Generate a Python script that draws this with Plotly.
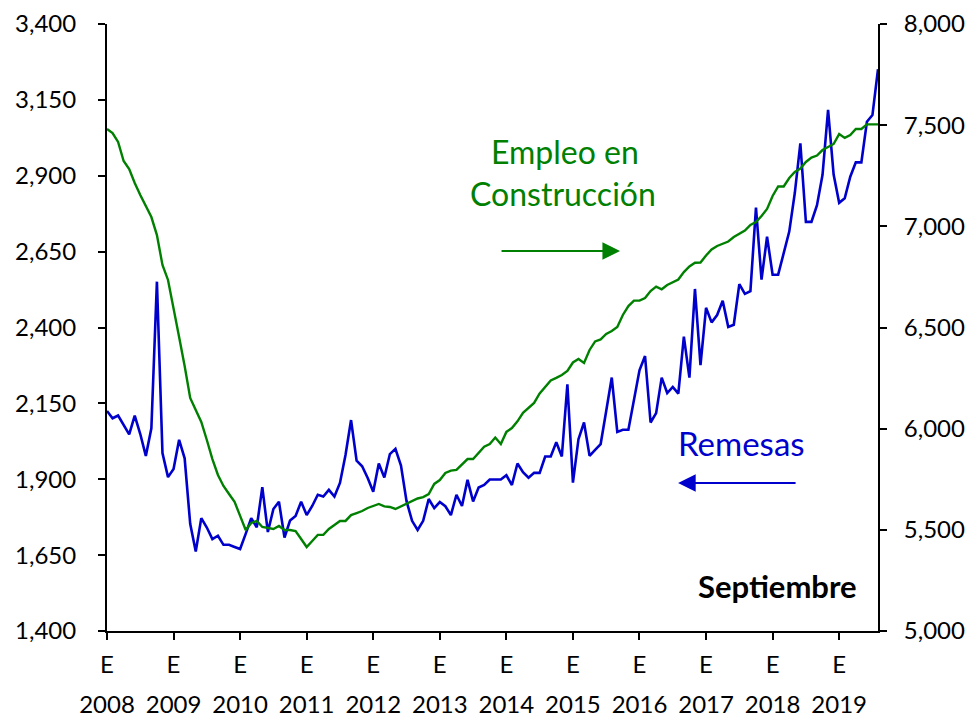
import plotly.graph_objects as go

# Monthly series, Jan 2008 onward
remesas = [2125, 2101, 2110, 2079, 2048, 2110, 2049, 1977, 2068, 2551, 1986, 1907,
           1934, 2030, 1969, 1753, 1662, 1772, 1741, 1703, 1714, 1684, 1684, 1677,
           1670, 1720, 1772, 1742, 1874, 1726, 1802, 1826, 1708, 1764, 1779, 1826,
           1782, 1812, 1849, 1843, 1865, 1843, 1888, 1980, 2095, 1961, 1943, 1904,
           1859, 1952, 1906, 1983, 2000, 1945, 1828, 1763, 1733, 1763, 1835, 1805,
           1825, 1811, 1782, 1849, 1812, 1898, 1827, 1873, 1881, 1899, 1899, 1899,
           1913, 1881, 1952, 1923, 1905, 1921, 1921, 1975, 1975, 2022, 1975, 2213,
           1889, 2032, 2087, 1977, 1997, 2016, 2125, 2235, 2056, 2063, 2063, 2168,
           2259, 2306, 2087, 2118, 2235, 2184, 2204, 2182, 2370, 2235, 2527, 2276,
           2465, 2417, 2441, 2488, 2402, 2409, 2543, 2511, 2520, 2795, 2558, 2699,
           2574, 2574, 2647, 2716, 2843, 3007, 2748, 2748, 2803, 2903, 3117, 2904,
           2811, 2826, 2897, 2944, 2944, 3078, 3100, 3251]

empleo = [7481, 7461, 7417, 7323, 7283, 7214, 7155, 7101, 7046, 6957, 6809, 6735,
          6601, 6453, 6310, 6152, 6092, 6033, 5944, 5850, 5771, 5717, 5677, 5638,
          5569, 5499, 5534, 5544, 5514, 5509, 5504, 5519, 5499, 5499, 5494, 5455,
          5415, 5445, 5475, 5475, 5504, 5524, 5544, 5544, 5573, 5583, 5593, 5608,
          5618, 5628, 5616, 5613, 5603, 5616, 5628, 5643, 5655, 5662, 5677, 5727,
          5746, 5781, 5793, 5796, 5821, 5850, 5850, 5880, 5911, 5924, 5956, 5924,
          5984, 6003, 6036, 6078, 6102, 6127, 6174, 6204, 6238, 6251, 6265, 6285,
          6327, 6344, 6325, 6389, 6431, 6441, 6468, 6483, 6503, 6562, 6606, 6633,
          6633, 6646, 6680, 6702, 6689, 6710, 6722, 6737, 6774, 6802, 6820, 6821,
          6856, 6886, 6903, 6915, 6925, 6947, 6962, 6979, 7007, 7021, 7051, 7086,
          7150, 7197, 7197, 7239, 7269, 7286, 7318, 7340, 7350, 7377, 7392, 7407,
          7456, 7437, 7451, 7481, 7481, 7504, 7504, 7504]

years = [str(y) for y in range(2008, 2020)]
month_labels = [f"{2008 + i // 12}-{i % 12 + 1:02d}" for i in range(len(remesas))]

x = list(range(len(remesas)))
tickvals = [12 * k for k in range(len(years))]

FONT = "Lato"
GREEN = "#008000"
BLUE = "#0000CC"

fig = go.Figure()
fig.add_trace(go.Scatter(x=x, y=remesas, mode="lines", name="Remesas",
                         line=dict(color=BLUE, width=2.6), customdata=month_labels,
                         yaxis="y"))
fig.add_trace(go.Scatter(x=x, y=empleo, mode="lines", name="Empleo en Construcción",
                         line=dict(color=GREEN, width=2.4), customdata=month_labels,
                         yaxis="y2"))

axis_common = dict(showgrid=False, zeroline=False, showline=True, linecolor="black",
                   linewidth=2, ticks="outside", ticklen=7, tickwidth=2, tickcolor="black",
                   automargin=False,
                   tickfont=dict(family=FONT, size=24, color="black"))

fig.update_layout(
    width=977, height=718,
    margin=dict(l=107, r=99, t=24, b=87),
    paper_bgcolor="white", plot_bgcolor="white",
    showlegend=False,
    xaxis=dict(range=[0, len(x) - 1], tickvals=tickvals, ticktext=["E"] * len(years),
               ticklabelstandoff=4, **axis_common),
    xaxis2=dict(range=[0, len(x) - 1], tickvals=tickvals, ticktext=years, overlaying="x",
                anchor="y", side="bottom", showgrid=False, zeroline=False, showline=False,
                ticks="", ticklabelstandoff=57, automargin=False,
                tickfont=dict(family=FONT, size=24, color="black")),
    yaxis=dict(range=[1400, 3400], dtick=250, tick0=1400, tickformat=",",
               ticklabelstandoff=17, **axis_common),
    yaxis2=dict(range=[5000, 8000], dtick=500, tick0=5000, tickformat=",",
                overlaying="y", side="right", ticklabelstandoff=12, **axis_common),
)

# dummy trace to activate xaxis2
fig.add_trace(go.Scatter(x=[None], y=[None], xaxis="x2", yaxis="y", showlegend=False,
                         hoverinfo="skip"))

def px(xp, yp):
    return (xp - 107.5) / 770.2, (631 - yp) / 607

annots = []
for txt, (xp, yp), col, size, bold in [
    ("Empleo en", (565, 152), GREEN, 32, False),
    ("Construcción", (563, 193), GREEN, 32, False),
    ("Remesas", (741, 443), BLUE, 33, False),
    ("Septiembre", (777, 586), "black", 31, True),
]:
    ax_, ay_ = px(xp, yp)
    annots.append(dict(x=ax_, y=ay_, xref="paper", yref="paper", text=f"<b>{txt}</b>" if bold else txt,
                       showarrow=False, xanchor="center", yanchor="middle",
                       font=dict(family=FONT, size=size, color=col)))

gx, gy = px(620, 251)
annots.append(dict(x=gx, y=gy, xref="paper", yref="paper", text="", showarrow=True,
                   ax=-120, ay=0, arrowhead=2, arrowsize=1.6, arrowwidth=2.2, arrowcolor=GREEN))
bx, by = px(678, 483)
annots.append(dict(x=bx, y=by, xref="paper", yref="paper", text="", showarrow=True,
                   ax=119, ay=0, arrowhead=2, arrowsize=1.6, arrowwidth=2.2, arrowcolor=BLUE))
fig.update_layout(annotations=annots)

fig.write_html("out.html", config={"displayModeBar": False},
               post_script="document.body.style.margin='0';")
